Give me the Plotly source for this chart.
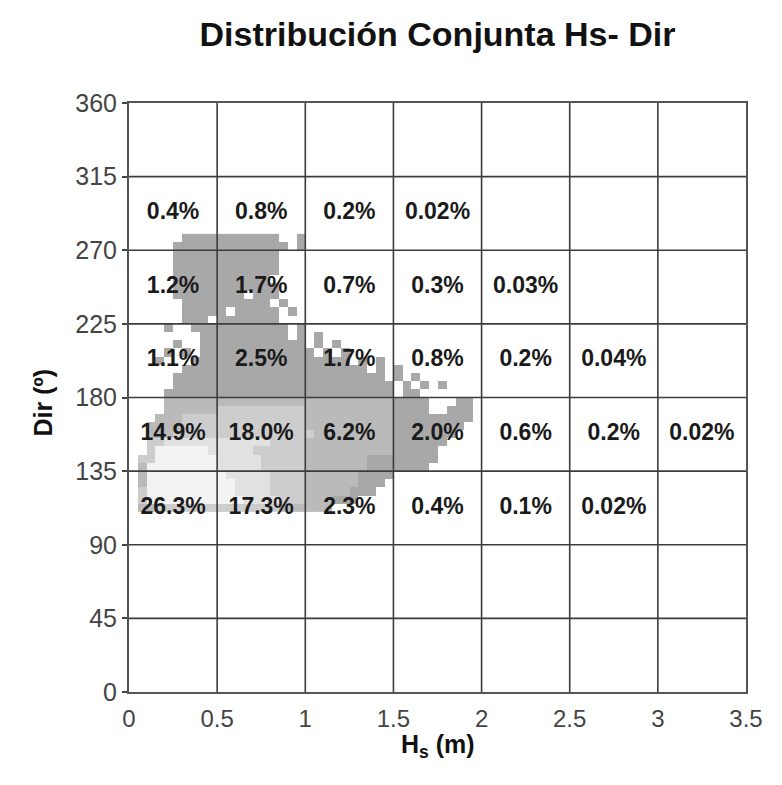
import numpy as np
import plotly.graph_objects as go

# ---------------- data ----------------
hs_ticks = [0, 0.5, 1, 1.5, 2, 2.5, 3, 3.5]
dir_ticks = [0, 45, 90, 135, 180, 225, 270, 315, 360]

# percentage table: Hs bins (lower edges, width 0.5 m) x Dir bins (lower edges, width 45 deg)
hs_bin_lo = [0.0, 0.5, 1.0, 1.5, 2.0, 2.5, 3.0]
dir_bin_lo = [270, 225, 180, 135, 90]
pct_dir_270 = ["0.4%", "0.8%", "0.2%", "0.02%", "", "", ""]
pct_dir_225 = ["1.2%", "1.7%", "0.7%", "0.3%", "0.03%", "", ""]
pct_dir_180 = ["1.1%", "2.5%", "1.7%", "0.8%", "0.2%", "0.04%", ""]
pct_dir_135 = ["14.9%", "18.0%", "6.2%", "2.0%", "0.6%", "0.2%", "0.02%"]
pct_dir_090 = ["26.3%", "17.3%", "2.3%", "0.4%", "0.1%", "0.02%", ""]
pct_rows = [pct_dir_270, pct_dir_225, pct_dir_180, pct_dir_135, pct_dir_090]

# sea-state cloud: grid of 0.05 m x 5 deg cells.
# key = lower Dir of the row; value = list of (first Hs cell, last Hs cell, shade level)
cloud_cell_hs = 0.05
cloud_cell_dir = 5
cloud_rows = {
    110: [(1, 2, 2), (3, 16, 3), (17, 22, 2)],
    115: [(1, 1, 3), (2, 12, 5), (13, 16, 4), (17, 19, 3), (20, 22, 2), (23, 25, 1)],
    120: [(1, 1, 3), (2, 11, 5), (12, 15, 4), (16, 19, 3), (20, 24, 2), (25, 27, 1)],
    125: [(1, 1, 2), (2, 11, 5), (12, 15, 4), (16, 19, 3), (20, 25, 2), (26, 28, 1)],
    130: [(1, 1, 2), (2, 10, 5), (11, 15, 4), (16, 19, 3), (20, 25, 2), (26, 29, 1)],
    135: [(1, 1, 2), (2, 9, 5), (10, 14, 4), (15, 19, 3), (20, 26, 2), (27, 33, 1)],
    140: [(1, 2, 3), (3, 9, 5), (10, 14, 4), (15, 19, 3), (20, 26, 2), (27, 34, 1)],
    145: [(2, 2, 3), (3, 8, 5), (9, 13, 4), (14, 19, 3), (20, 29, 2), (30, 34, 1)],
    150: [(2, 3, 3), (4, 15, 4), (16, 19, 3), (20, 29, 2), (30, 35, 1)],
    155: [(2, 4, 2), (5, 20, 3), (21, 29, 2), (30, 36, 1)],
    160: [(2, 5, 2), (6, 19, 3), (20, 29, 2), (30, 37, 1)],
    165: [(3, 5, 2), (6, 19, 3), (20, 29, 2), (30, 38, 1)],
    170: [(4, 9, 2), (10, 19, 3), (20, 29, 2), (30, 33, 1), (36, 38, 1)],
    175: [(4, 29, 2), (30, 33, 1), (37, 38, 1)],
    180: [(4, 29, 1), (31, 32, 1)],
    185: [(5, 29, 1), (31, 31, 1), (33, 33, 1), (35, 35, 1)],
    190: [(5, 28, 1), (30, 30, 1), (32, 32, 1)],
    195: [(6, 26, 1), (28, 28, 1), (30, 30, 1)],
    200: [(3, 3, 1), (7, 24, 1), (26, 26, 1), (28, 28, 1)],
    205: [(4, 4, 1), (6, 6, 1), (8, 20, 1), (22, 22, 1), (24, 24, 1)],
    210: [(5, 5, 1), (8, 19, 1), (21, 21, 1), (23, 23, 1)],
    215: [(8, 17, 1), (19, 19, 1), (21, 21, 1)],
    220: [(4, 4, 1), (7, 17, 1), (19, 19, 1)],
    225: [(6, 8, 1), (10, 16, 1)],
    230: [(6, 10, 1), (12, 16, 1), (18, 18, 1)],
    235: [(6, 15, 1), (17, 17, 1)],
    240: [(5, 12, 1), (14, 16, 1)],
    245: [(5, 16, 1)],
    250: [(5, 15, 1)],
    255: [(5, 16, 1)],
    260: [(5, 16, 1)],
    265: [(5, 16, 1)],
    270: [(5, 17, 1), (19, 19, 1)],
    275: [(6, 16, 1), (19, 19, 1)],
}
shade_colors = ["#a8a8a8", "#bababa", "#cdcdcd", "#e1e1e1", "#f3f3f3"]

# ---------------- build cloud grid ----------------
n_cols = 40
row_keys = sorted(cloud_rows.keys())
z = np.full((len(row_keys), n_cols), np.nan)
for i, d in enumerate(row_keys):
    for a, b, lev in cloud_rows[d]:
        z[i, a:b + 1] = lev
x_c = [cloud_cell_hs * (j + 0.5) for j in range(n_cols)]
y_c = [d + cloud_cell_dir / 2 for d in row_keys]

n_lev = len(shade_colors)
cscale = []
for k, c in enumerate(shade_colors):
    cscale.append([k / n_lev, c])
    cscale.append([(k + 1) / n_lev, c])

fig = go.Figure()
fig.add_trace(go.Heatmap(
    x=x_c, y=y_c, z=z, zmin=0.5, zmax=n_lev + 0.5,
    colorscale=cscale, showscale=False, hoverinfo="skip", zsmooth=False,
))

# percentage labels
tx, ty, tt = [], [], []
for dlo, row in zip(dir_bin_lo, pct_rows):
    for hlo, lab in zip(hs_bin_lo, row):
        if lab:
            tx.append(hlo + 0.25)
            ty.append(dlo + 22.5)
            tt.append(lab)
fig.add_trace(go.Scatter(
    x=tx, y=ty, text=tt, mode="text",
    textfont=dict(family="Liberation Sans, Arial, sans-serif", size=23, color="#1a1a1a", weight="bold"),
    hoverinfo="skip", showlegend=False,
))

# grid lines drawn above the cloud
grid_col = "#3c3c3c"
shapes = []
for xv in hs_ticks[1:-1]:
    shapes.append(dict(type="line", xref="x", yref="y", x0=xv, x1=xv, y0=dir_ticks[0], y1=dir_ticks[-1],
                       line=dict(color=grid_col, width=1.6), layer="above"))
for yv in dir_ticks[1:-1]:
    shapes.append(dict(type="line", xref="x", yref="y", x0=hs_ticks[0], x1=hs_ticks[-1], y0=yv, y1=yv,
                       line=dict(color=grid_col, width=1.6), layer="above"))

font_fam = "Liberation Sans, Arial, sans-serif"
fig.update_layout(
    width=782, height=785,
    margin=dict(l=129, r=36, t=103, b=93),
    paper_bgcolor="white", plot_bgcolor="white",
    showlegend=False,
    shapes=shapes,
    title=dict(text="<b>Distribución Conjunta Hs- Dir</b>", x=0.5, xref="paper", xanchor="center",
               y=1 - 34 / 785, yref="container", yanchor="middle",
               font=dict(family=font_fam, size=34, color="#111111")),
    xaxis=dict(range=[hs_ticks[0], hs_ticks[-1]], tickvals=hs_ticks, ticktext=[f"{v:g}" for v in hs_ticks],
               showgrid=False, zeroline=False, showline=True, linecolor="#555555", linewidth=2, mirror=True,
               ticks="", ticklabelstandoff=4,
               tickfont=dict(family=font_fam, size=24, color="#444444")),
    yaxis=dict(range=[dir_ticks[0], dir_ticks[-1]], tickvals=dir_ticks,
               showgrid=False, zeroline=False, showline=True, linecolor="#555555", linewidth=2, mirror=True,
               ticks="outside", ticklen=5, tickcolor="#444444", tickwidth=1.5,
               tickfont=dict(family=font_fam, size=25, color="#444444")),
    annotations=[
        dict(text="<b>H<sub>s</sub> (m)</b>", xref="paper", yref="paper", x=0.5, y=0, xanchor="center",
             yanchor="top", yshift=-36, showarrow=False,
             font=dict(family=font_fam, size=25, color="#111111")),
        dict(text="<b>Dir (º)</b>", xref="paper", yref="paper", x=0, y=0.5, xanchor="center",
             yanchor="middle", xshift=-87, yshift=-6, textangle=-90, showarrow=False,
             font=dict(family=font_fam, size=25, color="#111111")),
    ],
)

fig.write_html("out.html")
